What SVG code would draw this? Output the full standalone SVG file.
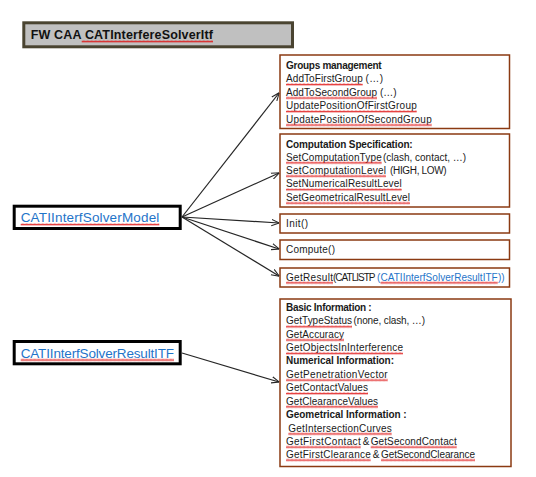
<svg xmlns="http://www.w3.org/2000/svg" width="536" height="477" viewBox="0 0 536 477">
<defs>
<style>
.t{font-family:"Liberation Sans",Arial,sans-serif;font-size:10px;fill:#1a1a1a}
.b{font-weight:bold}
.blue{fill:#1f74c9}
.lbl{font-family:"Liberation Sans",Arial,sans-serif;font-size:13.5px;fill:#1f74c9}
.ttl{font-family:"Liberation Sans",Arial,sans-serif;font-size:12.5px;font-weight:bold;fill:#111}
.box{fill:#fff;stroke:#8b3a12;stroke-width:1.5}
.ibox{fill:#fff;stroke:#000;stroke-width:3}
.sq{fill:url(#sq)}
.arr{stroke:#262626;stroke-width:1.2;fill:none;marker-end:url(#ah)}
</style>
<pattern id="sq" width="4" height="3" patternUnits="userSpaceOnUse">
<path d="M0,0.6 L1,2.4 L2,0.6 L3,2.4 L4,0.6" fill="none" stroke="#e01010" stroke-width="0.8"/>
</pattern>
<marker id="ah" viewBox="0 0 10 10" refX="9.5" refY="5" markerWidth="8" markerHeight="8" markerUnits="userSpaceOnUse" orient="auto">
<path d="M0,1 L10,5 L0,9" fill="none" stroke="#262626" stroke-width="1.3"/>
</marker>
</defs>
<rect width="536" height="477" fill="#fff"/>

<g id="title">
<rect x="23.8" y="22.8" width="268.7" height="24" fill="#c0c0c0" stroke="#4a4431" stroke-width="3"/>
<text class="ttl" x="30.7" y="39" textLength="182.3">FW CAA CATInterfereSolverItf</text>
<rect class="sq" transform="translate(81.7,40)" width="131.3" height="3"/>
</g>

<g id="connectors">
<line class="arr" x1="182" y1="217" x2="279" y2="93"/>
<line class="arr" x1="182" y1="217" x2="279" y2="173"/>
<line class="arr" x1="182" y1="217" x2="279" y2="223"/>
<line class="arr" x1="182" y1="217" x2="279" y2="249"/>
<line class="arr" x1="182" y1="217" x2="279" y2="276"/>
<line class="arr" x1="182" y1="353" x2="279" y2="382"/>
</g>

<g id="model">
<rect class="ibox" x="14.2" y="206.2" width="166" height="22.3"/>
<text class="lbl" x="20.7" y="222" textLength="138.6">CATIInterfSolverModel</text>
<rect class="sq" transform="translate(20.7,223)" width="138.6" height="3"/>
</g>

<g id="resultitf">
<rect class="ibox" x="14.2" y="341.5" width="166" height="22.3"/>
<text class="lbl" x="20.7" y="357.5" textLength="153.3">CATIInterfSolverResultITF</text>
<rect class="sq" transform="translate(20.7,358.5)" width="153.3" height="3"/>
</g>

<g id="groups">
<rect class="box" x="280" y="55" width="229.5" height="73.5"/>
<text class="t b" x="286" y="68.5" textLength="95.7">Groups management</text>
<text class="t" x="286" y="82" textLength="76.7">AddToFirstGroup</text>
<text class="t" x="365.5" y="82" textLength="17.5">( … )</text>
<text class="t" x="286" y="95.5" textLength="91">AddToSecondGroup</text>
<text class="t" x="380" y="95.5" textLength="16.7">( … )</text>
<text class="t" x="286" y="109" textLength="130.7">UpdatePositionOfFirstGroup</text>
<text class="t" x="286" y="122.5" textLength="145.7">UpdatePositionOfSecondGroup</text>
<rect class="sq" transform="translate(286,83)" width="76.7" height="3"/>
<rect class="sq" transform="translate(286,96.5)" width="91" height="3"/>
<rect class="sq" transform="translate(286,110)" width="130.7" height="3"/>
<rect class="sq" transform="translate(286,123.5)" width="145.7" height="3"/>
</g>

<g id="computation">
<rect class="box" x="280" y="134" width="229.5" height="73"/>
<text class="t b" x="286" y="147.5" textLength="126.7">Computation Specification:</text>
<text class="t" x="286" y="160.5" textLength="95.7">SetComputationType</text>
<text class="t" x="383" y="160.5" textLength="83">(clash, contact, …)</text>
<text class="t" x="286" y="173.8" textLength="100">SetComputationLevel</text>
<text class="t" x="390" y="173.8" textLength="56.7">(HIGH, LOW)</text>
<text class="t" x="286" y="187.3" textLength="115.7">SetNumericalResultLevel</text>
<text class="t" x="286" y="200.8" textLength="124">SetGeometricalResultLevel</text>
<rect class="sq" transform="translate(286,161.3)" width="95.7" height="3"/>
<rect class="sq" transform="translate(286,174.6)" width="100" height="3"/>
<rect class="sq" transform="translate(286,188.1)" width="115.7" height="3"/>
<rect class="sq" transform="translate(286,201.6)" width="124" height="3"/>
</g>

<g id="init">
<rect class="box" x="280" y="214" width="229.5" height="19"/>
<text class="t" x="286" y="226.5" textLength="22">Init()</text>
</g>

<g id="compute">
<rect class="box" x="280" y="240" width="229.5" height="19.5"/>
<text class="t" x="286" y="253" textLength="49">Compute()</text>
</g>

<g id="getresult">
<rect class="box" x="280" y="268" width="229.5" height="19"/>
<text class="t" x="286" y="280.5" textLength="47">GetResult</text>
<text class="t" x="333" y="280.5" textLength="42.5">(CATLISTP</text>
<text class="t blue" x="377" y="280.5" textLength="3">(</text>
<text class="t blue" x="380.5" y="280.5" textLength="117.2">CATIInterfSolverResultITF</text>
<text class="t blue" x="498" y="280.5" textLength="6.5">) )</text>
<rect class="sq" transform="translate(286,281.3)" width="47" height="3"/>
<rect class="sq" transform="translate(380.5,281.3)" width="117.2" height="3"/>
</g>

<g id="information">
<rect class="box" x="280" y="299" width="231" height="167.5"/>
<text class="t b" x="286" y="311" textLength="85.7">Basic Information :</text>
<text class="t" x="286" y="324.4" textLength="66">GetTypeStatus</text>
<text class="t" x="353.5" y="324.4" textLength="71.5">(none, clash, …)</text>
<text class="t" x="286" y="337.7" textLength="58">GetAccuracy</text>
<text class="t" x="286" y="351.1" textLength="117">GetObjectsInInterference</text>
<text class="t b" x="286" y="364.4" textLength="108">Numerical Information:</text>
<text class="t" x="286" y="377.8" textLength="101.7">GetPenetrationVector</text>
<text class="t" x="286" y="391.2" textLength="82">GetContactValues</text>
<text class="t" x="286" y="404.5" textLength="92">GetClearanceValues</text>
<text class="t b" x="286" y="417.9" textLength="120.7">Geometrical Information :</text>
<text class="t" x="288.3" y="431.6" textLength="103.4">GetIntersectionCurves</text>
<text class="t" x="286" y="444.8" textLength="74.7">GetFirstContact</text>
<text class="t" x="362.7" y="444.8" textLength="5.6">&amp;</text>
<text class="t" x="370.7" y="444.8" textLength="86">GetSecondContact</text>
<text class="t" x="286" y="457.8" textLength="84.7">GetFirstClearance</text>
<text class="t" x="372.7" y="457.8" textLength="5.6">&amp;</text>
<text class="t" x="381" y="457.8" textLength="94">GetSecondClearance</text>
<rect class="sq" transform="translate(286,325.2)" width="66" height="3"/>
<rect class="sq" transform="translate(286,338.5)" width="58" height="3"/>
<rect class="sq" transform="translate(286,351.9)" width="117" height="3"/>
<rect class="sq" transform="translate(286,378.6)" width="101.7" height="3"/>
<rect class="sq" transform="translate(286,392)" width="82" height="3"/>
<rect class="sq" transform="translate(286,405.3)" width="92" height="3"/>
<rect class="sq" transform="translate(288.3,432.4)" width="103.4" height="3"/>
<rect class="sq" transform="translate(286,445.6)" width="74.7" height="3"/>
<rect class="sq" transform="translate(370.7,445.6)" width="86" height="3"/>
<rect class="sq" transform="translate(286,458.6)" width="84.7" height="3"/>
<rect class="sq" transform="translate(381,458.6)" width="94" height="3"/>
</g>
</svg>
